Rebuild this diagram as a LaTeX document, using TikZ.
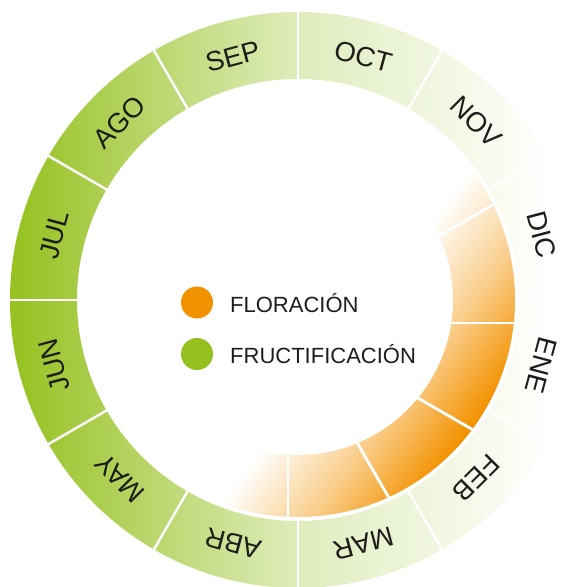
\documentclass[tikz,border=0pt]{standalone}
\usepackage{fontspec}
\setmainfont{Liberation Sans}
\definecolor{fgreen}{HTML}{95C11F}
\definecolor{forange}{HTML}{F39200}
\definecolor{txt}{HTML}{1D1D1B}
\pgfdeclarehorizontalshading{greenring}{100bp}{color(0bp)=(fgreen); color(25bp)=(fgreen); color(50bp)=(fgreen!30); color(72bp)=(white); color(100bp)=(white)}
\pgfdeclarehorizontalshading{orangering}{100bp}{color(0bp)=(white); color(55bp)=(white); color(61.67bp)=(forange!45); color(67.9bp)=(forange); color(100bp)=(forange)}
\tikzset{
  month/.style={inner sep=0pt, text=txt, font=\fontsize{27.5}{32}\selectfont},
  legendtext/.style={inner sep=0pt, anchor=base west, text=txt, font=\fontsize{22}{26}\selectfont},
  divider/.style={white, line width=2.4pt},
}
\begin{document}
\begin{tikzpicture}[x=1pt,y=1pt]
\useasboundingbox (-298,-287) rectangle (270,300);
% outer month ring
\shade[shading=greenring] (0:288) arc[start angle=0,end angle=360,radius=288] -- (0:221) arc[start angle=360,end angle=0,radius=221] -- cycle;
\foreach \a in {0,30,...,330} \draw[divider] (\a:219) -- (\a:291);
% inner flowering ring
\begin{scope}
  \clip (0:217) arc[start angle=0,end angle=360,radius=217] -- (0:155) arc[start angle=360,end angle=0,radius=155] -- cycle;
  \begin{scope}[transform canvas={rotate=-36.87}]
    \shade[shading=orangering] (-300,-320) rectangle (300,320);
  \end{scope}
  \coordinate (piv) at (-10,-23);
  \foreach \a in {60,30,0,-30,-60,-90,-120} \draw[white, line width=2.8pt] (piv) -- ++(\a:280);
\end{scope}
% month labels
\foreach \m [count=\i] in {JUL,AGO,SEP,OCT,NOV,DIC,ENE,FEB,MAR,ABR,MAY,JUN} {
  \pgfmathsetmacro\ang{195-30*\i}
  \node[month, rotate=\ang-90] (m\i) at (\ang:252) {\m};
}
% legend
\fill[forange] (-101,-2.5) circle (16) node (dotF) {};
\fill[fgreen] (-101,-54) circle (16) node (dotG) {};
\node[legendtext] (lF) at (-68,-12) {FLORACIÓN};
\node[legendtext] (lG) at (-68,-63) {FRUCTIFICACIÓN};
\end{tikzpicture}
\end{document}
